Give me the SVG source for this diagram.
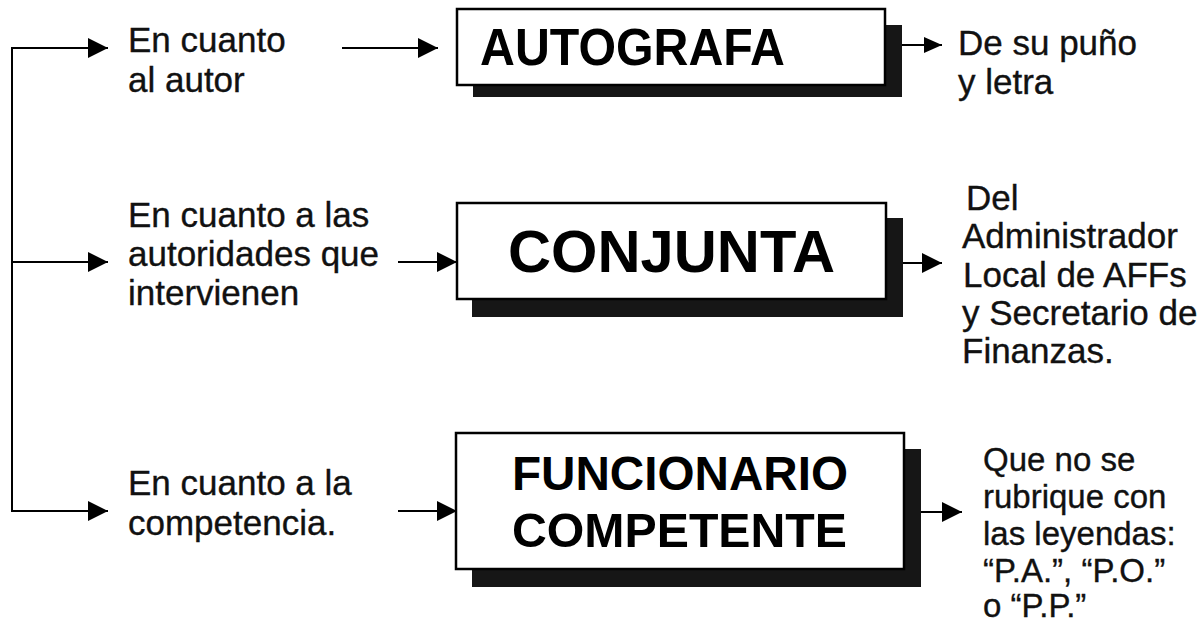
<svg xmlns="http://www.w3.org/2000/svg" width="1201" height="625" viewBox="0 0 1201 625">
<defs>
<marker id="ah" markerUnits="userSpaceOnUse" markerWidth="20" markerHeight="20" refX="20" refY="10" orient="auto">
<path d="M0,0 L20,10 L0,20 z" fill="#000"/>
</marker>
<marker id="ahs" markerUnits="userSpaceOnUse" markerWidth="18" markerHeight="18" refX="18" refY="9" orient="auto">
<path d="M0,1 L18,9 L0,17 z" fill="#000"/>
</marker>
<style>
.t{font-family:"Liberation Sans",Arial,sans-serif;font-size:35px;fill:#111;stroke:#111;stroke-width:0.35}
.r{font-family:"Liberation Sans",Arial,sans-serif;font-size:33px;fill:#111;stroke:#111;stroke-width:0.35}
.b{font-family:"Liberation Sans",Arial,sans-serif;font-weight:bold;fill:#000}
.box{fill:#fff;stroke:#000;stroke-width:2.5}
.sh{fill:#161616}
.ln{stroke:#000;stroke-width:2;fill:none}
</style>
</defs>
<rect width="1201" height="625" fill="#fff"/>
<g id="connectors">
<path class="ln" d="M12,48 V511"/>
<line class="ln" x1="11" y1="48" x2="108" y2="48" marker-end="url(#ah)"/>
<line class="ln" x1="11" y1="262" x2="108" y2="262" marker-end="url(#ah)"/>
<line class="ln" x1="11" y1="511" x2="108" y2="511" marker-end="url(#ah)"/>
<line class="ln" x1="342" y1="48" x2="438" y2="48" marker-end="url(#ah)"/>
<line class="ln" x1="398" y1="262" x2="457" y2="262" marker-end="url(#ah)"/>
<line class="ln" x1="398" y1="511" x2="457" y2="511" marker-end="url(#ah)"/>
<line class="ln" x1="902" y1="45" x2="942" y2="45" marker-end="url(#ahs)"/>
<line class="ln" x1="903" y1="263" x2="942" y2="263" marker-end="url(#ah)"/>
<line class="ln" x1="921" y1="512" x2="962" y2="512" marker-end="url(#ah)"/>
</g>
<g id="lbl-autor">
<text class="t" x="128" y="52">En cuanto</text>
<text class="t" x="128" y="92">al autor</text>
</g>
<g id="lbl-autoridades">
<text class="t" x="128" y="227">En cuanto a las</text>
<text class="t" x="128" y="266">autoridades que</text>
<text class="t" x="128" y="305">intervienen</text>
</g>
<g id="lbl-competencia">
<text class="t" x="128" y="495">En cuanto a la</text>
<text class="t" x="128" y="535">competencia.</text>
</g>
<g id="node-autografa">
<rect class="sh" x="473" y="25" width="429" height="72"/>
<rect class="box" x="457" y="9" width="428" height="76"/>
<text class="b" x="480" y="65" font-size="52" textLength="305" lengthAdjust="spacingAndGlyphs">AUTOGRAFA</text>
</g>
<g id="node-conjunta">
<rect class="sh" x="472" y="218" width="431" height="99"/>
<rect class="box" x="457" y="203" width="429" height="96"/>
<text class="b" x="508" y="272" font-size="60" textLength="327" lengthAdjust="spacingAndGlyphs">CONJUNTA</text>
</g>
<g id="node-funcionario">
<rect class="sh" x="472" y="449" width="449" height="138"/>
<rect class="box" x="456" y="433" width="448" height="136"/>
<text class="b" x="512" y="490" font-size="48" textLength="336" lengthAdjust="spacingAndGlyphs">FUNCIONARIO</text>
<text class="b" x="512" y="547" font-size="48" textLength="335" lengthAdjust="spacingAndGlyphs">COMPETENTE</text>
</g>
<g id="res-autografa">
<text class="t" x="958" y="55">De su puño</text>
<text class="t" x="958" y="94">y letra</text>
</g>
<g id="res-conjunta">
<text class="t" x="966" y="210">Del</text>
<text class="t" x="962" y="248">Administrador</text>
<text class="t" x="963" y="287">Local de AFFs</text>
<text class="t" x="962" y="325">y Secretario de</text>
<text class="t" x="962" y="363">Finanzas.</text>
</g>
<g id="res-funcionario">
<text class="r" x="983" y="471">Que no se</text>
<text class="r" x="983" y="508">rubrique con</text>
<text class="r" x="983" y="545">las leyendas:</text>
<text class="r" x="983" y="582">“P.A.”, “P.O.”</text>
<text class="r" x="983" y="617">o “P.P.”</text>
</g>
</svg>
